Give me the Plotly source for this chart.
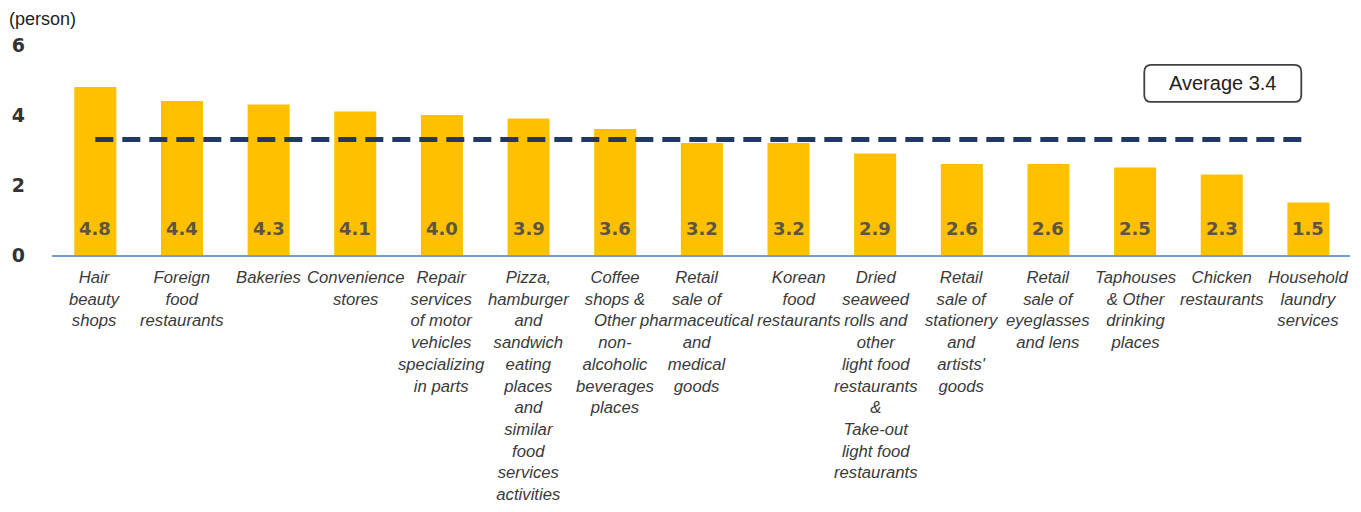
import plotly.graph_objects as go

categories = [
    "Hair<br>beauty<br>shops",
    "Foreign<br>food<br>restaurants",
    "Bakeries",
    "Convenience<br>stores",
    "Repair<br>services<br>of motor<br>vehicles<br>specializing<br>in parts",
    "Pizza,<br>hamburger<br>and<br>sandwich<br>eating<br>places<br>and<br>similar<br>food<br>services<br>activities",
    "Coffee<br>shops &<br>Other<br>non-<br>alcoholic<br>beverages<br>places",
    "Retail<br>sale of<br>pharmaceutical<br>and<br>medical<br>goods",
    "Korean<br>food<br>restaurants",
    "Dried<br>seaweed<br>rolls and<br>other<br>light food<br>restaurants<br>&<br>Take-out<br>light food<br>restaurants",
    "Retail<br>sale of<br>stationery<br>and<br>artists'<br>goods",
    "Retail<br>sale of<br>eyeglasses<br>and lens",
    "Taphouses<br>& Other<br>drinking<br>places",
    "Chicken<br>restaurants",
    "Household<br>laundry<br>services",
]
values = [4.8, 4.4, 4.3, 4.1, 4.0, 3.9, 3.6, 3.2, 3.2, 2.9, 2.6, 2.6, 2.5, 2.3, 1.5]
average_line = [3.3] * len(categories)
average_label = "Average 3.4"
y_ticks = [0, 2, 4, 6]
unit_label = "(person)"

# horizontal nudges (px) of category labels, styling only
label_nudge = [0, 0, 0, 0, 0, 0, 0, -5, 10, 0, 0, 0, 0, 0, 0]

x_idx = list(range(len(categories)))

fig = go.Figure()
fig.add_trace(go.Bar(
    x=x_idx, y=values, marker=dict(color="#FFC000", line=dict(width=0)),
    width=0.485, hoverinfo="skip",
))
fig.add_trace(go.Scatter(
    x=x_idx, y=average_line, mode="lines",
    line=dict(color="#1F3864", width=5, dash="18px,9px"),
    hoverinfo="skip",
))

for i, v in zip(x_idx, values):
    fig.add_annotation(
        x=i, y=0, xref="x", yref="y", text=f"{v:.1f}", showarrow=False,
        yanchor="middle", yshift=27,
        font=dict(family="DejaVu Sans", size=18, color="#5b5546", weight="bold"),
    )

for i, (lab, dx) in enumerate(zip(categories, label_nudge)):
    fig.add_annotation(
        x=i, y=0, xref="x", yref="y", text=lab, showarrow=False,
        xanchor="center", yanchor="top", yshift=-11, xshift=dx, align="center",
        font=dict(family="Liberation Sans", size=16.7, color="#3a3a3a", style="italic"),
    )

# Average box
box_w, box_h, r = 157, 37, 7
w2, h2 = box_w / 2, box_h / 2
path = (f"M {-w2 + r},{-h2} L {w2 - r},{-h2} Q {w2},{-h2} {w2},{-h2 + r} "
        f"L {w2},{h2 - r} Q {w2},{h2} {w2 - r},{h2} L {-w2 + r},{h2} "
        f"Q {-w2},{h2} {-w2},{h2 - r} L {-w2},{-h2 + r} Q {-w2},{-h2} {-w2 + r},{-h2} Z")
fig.add_shape(
    type="path", xref="paper", yref="paper", xsizemode="pixel", ysizemode="pixel",
    xanchor=0.902, yanchor=0.817, path=path,
    line=dict(color="#404040", width=1.8), fillcolor="white",
)
fig.add_annotation(
    x=0.902, y=0.817, xref="paper", yref="paper", text=average_label, showarrow=False,
    xanchor="center", yanchor="middle",
    font=dict(family="Liberation Sans", size=20, color="#222222"),
)

fig.add_annotation(
    x=0, y=1, xref="paper", yref="paper", text=unit_label, showarrow=False,
    xanchor="left", yanchor="top", xshift=-44, yshift=37, borderpad=0,
    font=dict(family="Liberation Sans", size=18, color="#222222"),
)

fig.update_layout(
    width=1361, height=512,
    margin=dict(l=44, r=19, t=37, b=265),
    plot_bgcolor="white", paper_bgcolor="white",
    showlegend=False, bargap=0.5,
    font=dict(family="Liberation Sans"),
)
fig.update_xaxes(
    tickmode="array", tickvals=x_idx, showticklabels=False,
    range=[-0.5, 14.48], showgrid=False, zeroline=False,
    showline=True, linecolor="#6F9FD8", linewidth=2, ticks="",
    automargin=False,
)
fig.update_yaxes(
    range=[0, 6], tickvals=y_ticks, showgrid=False, zeroline=False, showline=False,
    ticks="", ticklabelstandoff=26, automargin=False,
    tickfont=dict(family="DejaVu Sans", size=19, color="#333333", weight="bold"),
)

fig.write_html("out.html")
